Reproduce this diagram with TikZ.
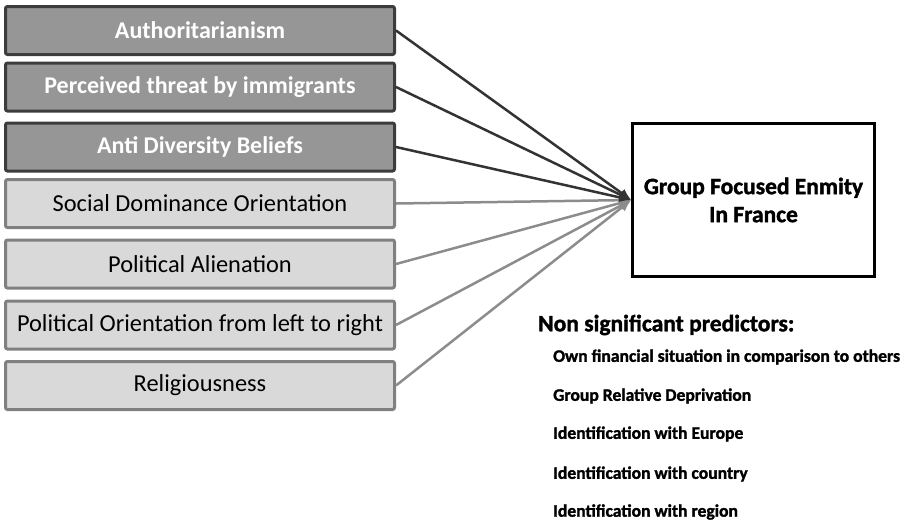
\documentclass[tikz,border=0pt]{standalone}
\usepackage{fontspec}
\setmainfont{Carlito}
\newfontfamily\heavyfont[BoldFont={Carlito Bold},BoldFeatures={FakeBold=1.5}]{Carlito}
\usetikzlibrary{arrows.meta}
\definecolor{darkfill}{HTML}{969696}
\definecolor{darkedge}{HTML}{3C3C3C}
\definecolor{lightfill}{HTML}{D9D9D9}
\definecolor{lightedge}{HTML}{808080}
\definecolor{darkline}{HTML}{333333}
\definecolor{lightline}{HTML}{8C8C8C}
\tikzset{
  darkbox/.style={draw=darkedge, fill=darkfill, line width=3pt, rounded corners=2pt,
    minimum width=389pt, minimum height=48pt, inner sep=0pt,
    text=white, font=\fontsize{24}{28}\selectfont\bfseries},
  lightbox/.style={draw=lightedge, fill=lightfill, line width=3pt, rounded corners=2pt,
    minimum width=389pt, minimum height=48pt, inner sep=0pt,
    text=black, font=\fontsize{24.4}{28}\selectfont},
  target/.style={draw=black, line width=2.5pt, minimum width=242pt, minimum height=153pt,
    align=center, font=\heavyfont\fontsize{23.5}{28}\selectfont\bfseries},
  darkarrow/.style={draw=darkline, line width=2.5pt, -{Latex[length=12pt,width=10pt]}},
  lightarrow/.style={draw=lightline, line width=2.5pt, -{Latex[length=12pt,width=10pt]}},
  heading/.style={anchor=west, inner sep=0pt, font=\heavyfont\fontsize{23.5}{28}\selectfont\bfseries},
  item/.style={anchor=west, inner sep=0pt, font=\heavyfont\fontsize{17.6}{21}\selectfont\bfseries}
}
\begin{document}
\begin{tikzpicture}[x=1pt,y=-1pt]
\useasboundingbox (0,0) rectangle (912,523);
\node[darkbox] (b1) at (200,30.5) {Authoritarianism};
\node[darkbox] (b2) at (200,87) {Perceived threat by immigrants};
\node[darkbox] (b3) at (200,147) {Anti Diversity Beliefs};
\node[lightbox] (b4) at (200,203.5) {Social Dominance Orientation};
\node[lightbox] (b5) at (200,264) {Political Alienation};
\node[lightbox] (b6) at (200,325) {Political Orientation from left to right};
\node[lightbox] (b7) at (200,385.5) {Religiousness};
\node[target] (t) at (753.5,200) {Group Focused Enmity\\In France};
\coordinate (tip) at (t.west);
\draw[lightarrow] (b4.east) -- (tip);
\draw[lightarrow] (b5.east) -- (tip);
\draw[lightarrow] (b6.east) -- (tip);
\draw[lightarrow] (b7.east) -- (tip);
\draw[darkarrow] (b1.east) -- (tip);
\draw[darkarrow] (b2.east) -- (tip);
\draw[darkarrow] (b3.east) -- (tip);
\node[heading] (h) at (538,325) {Non significant predictors:};
\node[item] (i1) at (553,357) {Own financial situation in comparison to others};
\node[item] (i2) at (553,396) {Group Relative Deprivation};
\node[item] (i3) at (553,434) {Identification with Europe};
\node[item] (i4) at (553,474) {Identification with country};
\node[item] (i5) at (553,512) {Identification with region};
\end{tikzpicture}
\end{document}
